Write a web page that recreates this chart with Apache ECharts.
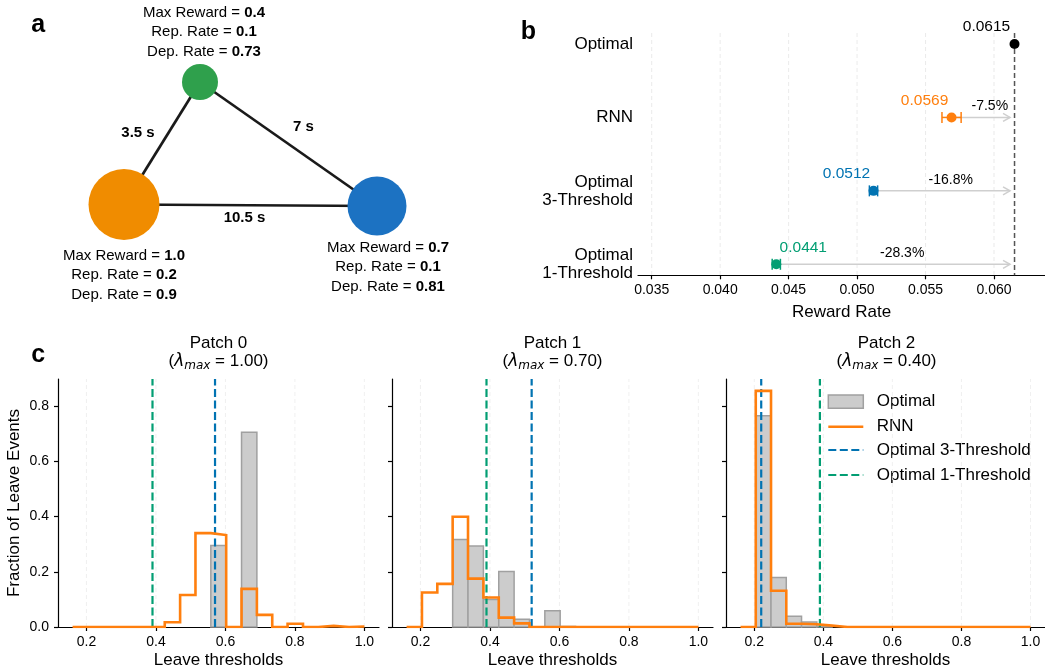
<!DOCTYPE html>
<html><head><meta charset="utf-8">
<script src="https://cdn.jsdelivr.net/npm/echarts@6/dist/echarts.min.js"></script>
<style>html,body{margin:0;padding:0;background:#fff}#chart{width:1045px;height:670px}</style>
</head><body><div id="chart"></div>
<script>
// ================= DATA =================
// panel a : patches of the foraging environment
const patchNames = ['Patch 0', 'Patch 1', 'Patch 2'];
const maxReward = [1.0, 0.7, 0.4];
const repRate = [0.2, 0.1, 0.1];
const depRate = [0.9, 0.81, 0.73];
const edgeFrom = [0, 2, 0];
const edgeTo = [2, 1, 1];
const travelTime = [3.5, 7, 10.5];

// panel b : reward rates
const methods = ['Optimal', 'RNN', 'Optimal\n3-Threshold', 'Optimal\n1-Threshold'];
const rewardRate = [0.0615, 0.0569, 0.0512, 0.0441];
const rewardErr = [0, 0.0007, 0.0003, 0.0003];
const pctChange = ['', '-7.5%', '-16.8%', '-28.3%'];
const rewardTicks = [0.035, 0.040, 0.045, 0.050, 0.055, 0.060];

// panel c : leave-threshold histograms
const binEdges = [0.16, 0.2042, 0.2484, 0.2926, 0.3368, 0.3811, 0.4253, 0.4695, 0.5137, 0.5579,
                  0.6021, 0.6463, 0.6905, 0.7347, 0.7789, 0.8232, 0.8674, 0.9116, 0.9558, 1.0];
const optHist0 = [0,0,0,0,0,0,0,0,0,0.295,0,0.705,0,0,0,0,0,0,0];
const rnnHist0 = [0,0,0,0,0,0,0.017,0.116,0.340,0.333,0,0.138,0.044,0,0.012,0,0.004,0,0.002];
const optHist1 = [0,0,0,0.317,0.293,0.100,0.201,0.028,0,0.059,0.002,0,0,0,0,0,0,0,0];
const rnnHist1 = [0,0.125,0.156,0.399,0.175,0.107,0.034,0.013,0,0,0,0,0,0,0,0,0,0,0];
const optHist2 = [0,0.765,0.179,0.039,0.018,0.002,0,0,0,0,0,0,0,0,0,0,0,0,0];
const rnnHist2 = [0,0.855,0.131,0.012,0.010,0.005,0,0,0,0,0,0,0,0,0,0,0,0,0];
const threshold3 = [0.57, 0.52, 0.22];
const threshold1 = [0.39, 0.39, 0.39];
const lambdaMax = ['1.00', '0.70', '0.40'];
const thrTicks = [0.2, 0.4, 0.6, 0.8, 1.0];
const fracTicks = [0, 0.2, 0.4, 0.6, 0.8];
const legendNames = ['Optimal', 'RNN', 'Optimal 3-Threshold', 'Optimal 1-Threshold'];

// ================= STYLE / LAYOUT =================
const FONT = 'Liberation Sans, Arial, Helvetica, sans-serif';
const C_ORANGE = '#ff7f0e', C_BLUE = '#0173b2', C_GREEN = '#029e73';
const nodeXY = [[124, 204.5], [377, 206], [200, 82]];
const nodeR = [35.5, 29.5, 18];
const nodeColor = ['#f08c00', '#1c72c2', '#2fa04c'];
const nodeLabelDx = [0, 11, 4];
const nodeLabelDy = [41.5, 32, -20.5];
const edgeLabelShift = [[-24, -10], [15, -17], [-6, 13]];
const bColors = ['#000000', C_ORANGE, C_BLUE, C_GREEN];
const valueLabelDx = [-28, -27, -27, 27];
const cLefts = [58, 392, 726];
const cWidth = 321, cTop = 379, cHeight = 248;
const X_MIN = 0.118, X_MAX = 1.042, Y_MAX = 0.898;
const B_YMIN = -0.15, B_YMAX = 3.15;

const optHists = [optHist0, optHist1, optHist2];
const rnnHists = [rnnHist0, rnnHist1, rnnHist2];

const chart = echarts.init(document.getElementById('chart'), null, {renderer: 'canvas', width: 1045, height: 670});

const grids = [
  {left: 0, top: 0, width: 1045, height: 670},
  {left: 638, top: 33, width: 407, height: 242.3}
];
cLefts.forEach(l => grids.push({left: l, top: cTop, width: cWidth, height: cHeight}));

const xAxes = [
  {gridIndex: 0, type: 'value', min: 0, max: 1045, show: false},
  {gridIndex: 1, type: 'value', min: 0.0340, max: 0.03400 + 407 / 13692,
   axisLine: {show: true, onZero: false, lineStyle: {color: '#000', width: 1.2}},
   axisTick: {show: true, customValues: rewardTicks, length: 4, lineStyle: {color: '#000', width: 1.2}},
   axisLabel: {customValues: rewardTicks, formatter: v => v.toFixed(3), fontSize: 14, color: '#000', margin: 8, fontFamily: FONT},
   splitLine: {show: false},
   name: 'Reward Rate', nameLocation: 'middle', nameGap: 29,
   nameTextStyle: {fontSize: 17, color: '#000', fontFamily: FONT}}
];
const yAxes = [
  {gridIndex: 0, type: 'value', min: 0, max: 670, inverse: true, show: false},
  {gridIndex: 1, type: 'value', min: B_YMIN, max: B_YMAX, inverse: true,
   axisLine: {show: false}, axisTick: {show: false}, splitLine: {show: false},
   axisLabel: {customValues: [0, 1, 2, 3], formatter: v => methods[Math.round(v)], fontSize: 17,
               lineHeight: 18, color: '#000', margin: 5, align: 'right', fontFamily: FONT,
               padding: [3, 0, 0, 0]}}
];
for (let k = 0; k < 3; k++) {
  xAxes.push({gridIndex: 2 + k, type: 'value', min: X_MIN, max: X_MAX,
    axisLine: {show: true, onZero: false, lineStyle: {color: '#000', width: 1.2}},
    axisTick: {show: true, customValues: thrTicks, length: 4, lineStyle: {color: '#000', width: 1.2}},
    axisLabel: {customValues: thrTicks, formatter: v => v.toFixed(1), fontSize: 14, color: '#000', margin: 8, fontFamily: FONT},
    splitLine: {show: false},
    name: 'Leave thresholds', nameLocation: 'middle', nameGap: 25,
    nameTextStyle: {fontSize: 17, color: '#000', fontFamily: FONT}});
  yAxes.push({gridIndex: 2 + k, type: 'value', min: 0, max: Y_MAX,
    axisLine: {show: true, lineStyle: {color: '#000', width: 1.2}},
    axisTick: {show: true, customValues: fracTicks, length: 4, lineStyle: {color: '#000', width: 1.2}},
    axisLabel: {show: k === 0, customValues: fracTicks, formatter: v => v.toFixed(1), fontSize: 14, color: '#000', margin: 9, fontFamily: FONT},
    splitLine: {show: false},
    name: k === 0 ? 'Fraction of Leave Events' : '', nameLocation: 'middle', nameGap: 35,
    nameTextStyle: {fontSize: 17, color: '#000', fontFamily: FONT}});
}

// vertical reference lines drawn through the axes' scales
function vLines(ax, values, y0, y1, style) {
  return {
    type: 'custom', xAxisIndex: ax, yAxisIndex: ax, silent: true,
    data: values.map(v => [v, y0]),
    renderItem: (params, api) => {
      const a = api.coord([api.value(0), y0]), b = api.coord([api.value(0), y1]);
      return {type: 'line', shape: {x1: a[0], y1: a[1], x2: b[0], y2: b[1]}, style: style};
    }
  };
}

const series = [];

// ---------- panel a ----------
series.push({
  type: 'custom', xAxisIndex: 0, yAxisIndex: 0, silent: true,
  data: travelTime.map((t, i) => [edgeFrom[i], edgeTo[i], t]),
  renderItem: (params, api) => {
    const i = params.dataIndex;
    const a = api.coord(nodeXY[edgeFrom[i]]), b = api.coord(nodeXY[edgeTo[i]]);
    return {type: 'group', children: [
      {type: 'line', shape: {x1: a[0], y1: a[1], x2: b[0], y2: b[1]}, style: {stroke: '#1a1a1a', lineWidth: 2.7}},
      {type: 'text', x: (a[0] + b[0]) / 2 + edgeLabelShift[i][0], y: (a[1] + b[1]) / 2 + edgeLabelShift[i][1],
       style: {text: travelTime[i] + ' s', fontSize: 15, fontWeight: 'bold', fontFamily: FONT, fill: '#000', align: 'center', verticalAlign: 'middle'}}
    ]};
  }
});
series.push({
  type: 'custom', xAxisIndex: 0, yAxisIndex: 0, silent: true,
  data: maxReward.map((r, i) => [i, r]),
  renderItem: (params, api) => {
    const i = params.dataIndex;
    const c = api.coord(nodeXY[i]);
    const txt = '{n|Max Reward = }{b|' + maxReward[i].toFixed(1) + '}\n' +
                '{n|Rep. Rate = }{b|' + repRate[i].toFixed(1) + '}\n' +
                '{n|Dep. Rate = }{b|' + String(depRate[i]) + '}';
    const dy = nodeLabelDy[i];
    return {type: 'group', children: [
      {type: 'circle', shape: {cx: c[0], cy: c[1], r: nodeR[i]}, style: {fill: nodeColor[i]}},
      {type: 'text', x: c[0] + nodeLabelDx[i], y: c[1] + dy,
       style: {text: txt, align: 'center', verticalAlign: dy > 0 ? 'top' : 'bottom', fill: '#000',
         fontSize: 15, fontFamily: FONT, lineHeight: 19.5,
         rich: {n: {fontSize: 15, fontFamily: FONT, lineHeight: 19.5, fill: '#000'},
                b: {fontSize: 15, fontFamily: FONT, fontWeight: 'bold', lineHeight: 19.5, fill: '#000'}}}}
    ]};
  }
});

// ---------- panel b ----------
series.push(vLines(1, rewardTicks, B_YMIN, B_YMAX, {stroke: '#e4e4e4', lineWidth: 0.8, lineDash: [4, 3]}));
series.push(vLines(1, [rewardRate[0]], B_YMIN, B_YMAX, {stroke: '#555555', lineWidth: 1.5, lineDash: [5, 3]}));
series.push({
  type: 'custom', xAxisIndex: 1, yAxisIndex: 1, silent: true,
  data: rewardRate.map((v, i) => [v, i]),
  renderItem: (params, api) => {
    const i = params.dataIndex;
    if (i === 0) return null;
    const s = api.coord([api.value(0), i]);
    const e = api.coord([rewardRate[0], i]);
    const ex = e[0] - 4.5, y = s[1];
    return {type: 'group', children: [
      {type: 'line', shape: {x1: s[0], y1: y, x2: ex, y2: y}, style: {stroke: '#cfcfcf', lineWidth: 1.5}},
      {type: 'polyline', shape: {points: [[ex - 7, y - 4], [ex, y], [ex - 7, y + 4]]}, style: {stroke: '#cfcfcf', lineWidth: 1.5, fill: null}},
      {type: 'text', x: (s[0] + ex) / 2 + 9, y: y - 11,
       style: {text: pctChange[i], fontSize: 14, fontFamily: FONT, fill: '#000', align: 'center', verticalAlign: 'middle'}}
    ]};
  }
});
series.push({
  type: 'custom', xAxisIndex: 1, yAxisIndex: 1, silent: true,
  data: rewardRate.map((v, i) => [v, i, rewardErr[i]]),
  renderItem: (params, api) => {
    const i = params.dataIndex, v = api.value(0), err = api.value(2);
    if (!err) return null;
    const a = api.coord([v - err, i]), b = api.coord([v + err, i]);
    const st = {stroke: bColors[i], lineWidth: 1.5};
    return {type: 'group', children: [
      {type: 'line', shape: {x1: a[0], y1: a[1], x2: b[0], y2: b[1]}, style: st},
      {type: 'line', shape: {x1: a[0], y1: a[1] - 5.5, x2: a[0], y2: a[1] + 5.5}, style: st},
      {type: 'line', shape: {x1: b[0], y1: b[1] - 5.5, x2: b[0], y2: b[1] + 5.5}, style: st}
    ]};
  }
});
series.push({
  type: 'scatter', xAxisIndex: 1, yAxisIndex: 1, symbol: 'circle', symbolSize: 10,
  itemStyle: {opacity: 1},
  data: rewardRate.map((v, i) => ({value: [v, i], itemStyle: {color: bColors[i], opacity: 1},
    label: {offset: [valueLabelDx[i], 0], color: bColors[i]}})),
  label: {show: true, position: 'top', distance: 4, fontSize: 15.5, fontFamily: FONT, opacity: 1,
          formatter: p => p.value[0].toFixed(4)}
});

// ---------- panel c ----------
for (let k = 0; k < 3; k++) {
  const ax = 2 + k;
  series.push(vLines(ax, thrTicks, 0, Y_MAX, {stroke: '#ececec', lineWidth: 0.8, lineDash: [4, 3]}));
  const bars = [];
  for (let i = 0; i < binEdges.length - 1; i++) {
    if (optHists[k][i] > 0) bars.push([binEdges[i], binEdges[i + 1], optHists[k][i]]);
  }
  series.push({
    type: 'custom', name: 'Optimal', xAxisIndex: ax, yAxisIndex: ax, silent: true,
    encode: {x: [0, 1], y: 2}, data: bars,
    renderItem: (params, api) => {
      const p1 = api.coord([api.value(0), api.value(2)]);
      const p2 = api.coord([api.value(1), 0]);
      return {type: 'rect', shape: {x: p1[0], y: p1[1], width: p2[0] - p1[0], height: p2[1] - p1[1]},
              style: {fill: '#cccccc', stroke: '#a0a0a0', lineWidth: 1.5}};
    }
  });
  const step = [[binEdges[0], 0]];
  for (let i = 0; i < binEdges.length - 1; i++) {
    step.push([binEdges[i], rnnHists[k][i]], [binEdges[i + 1], rnnHists[k][i]]);
  }
  step.push([binEdges[binEdges.length - 1], 0]);
  series.push({
    type: 'line', name: 'RNN', xAxisIndex: ax, yAxisIndex: ax, data: step, symbol: 'none', silent: true,
    lineStyle: {color: C_ORANGE, width: 2.6, join: 'miter'}
  });
  series.push(vLines(ax, [threshold3[k]], 0, Y_MAX, {stroke: C_BLUE, lineWidth: 2.2, lineDash: [8, 3.5]}));
  series.push(vLines(ax, [threshold1[k]], 0, Y_MAX, {stroke: C_GREEN, lineWidth: 2.2, lineDash: [8, 3.5]}));
}

// ---------- texts: panel letters, titles, legend ----------
const graphic = [];
[['a', 38.3, 25.5], ['b', 528.3, 32.5], ['c', 38.3, 354.7]].forEach(d => graphic.push({
  type: 'text', x: d[1], y: d[2], silent: true,
  style: {text: d[0], fontSize: 25, fontWeight: 'bold', fontFamily: FONT, fill: '#000', align: 'center', verticalAlign: 'middle'}
}));
for (let k = 0; k < 3; k++) {
  const cx = cLefts[k] + cWidth / 2;
  graphic.push({type: 'text', x: cx, y: 343.3, silent: true,
    style: {text: patchNames[k], fontSize: 17, fontFamily: FONT, fill: '#000', align: 'center', verticalAlign: 'middle'}});
  graphic.push({type: 'text', x: cx, y: 361.7, silent: true,
    style: {text: '{o|(}{l|λ}{s|max}{o| = ' + lambdaMax[k] + ')}', align: 'center', verticalAlign: 'middle',
      rich: {o: {fontSize: 17, fontFamily: FONT, fill: '#000', lineHeight: 20, verticalAlign: 'middle'},
             l: {fontSize: 17, fontFamily: 'DejaVu Sans', fontStyle: 'italic', fill: '#000', lineHeight: 20, verticalAlign: 'middle'},
             s: {fontSize: 12, fontFamily: 'DejaVu Sans', fontStyle: 'italic', fill: '#000', lineHeight: 9, verticalAlign: 'bottom'}}}});
}
const legY = [401.7, 426.7, 450, 475];
graphic.push({type: 'rect', shape: {x: 828.3, y: 395, width: 35, height: 13.3}, silent: true,
  style: {fill: '#cccccc', stroke: '#a0a0a0', lineWidth: 1.5}});
graphic.push({type: 'line', shape: {x1: 828.3, y1: legY[1], x2: 863.3, y2: legY[1]}, silent: true,
  style: {stroke: C_ORANGE, lineWidth: 2.6}});
graphic.push({type: 'line', shape: {x1: 828.3, y1: legY[2], x2: 863.3, y2: legY[2]}, silent: true,
  style: {stroke: C_BLUE, lineWidth: 2.2, lineDash: [8, 3.5]}});
graphic.push({type: 'line', shape: {x1: 828.3, y1: legY[3], x2: 863.3, y2: legY[3]}, silent: true,
  style: {stroke: C_GREEN, lineWidth: 2.2, lineDash: [8, 3.5]}});
legendNames.forEach((n, i) => graphic.push({type: 'text', x: 876.7, y: legY[i], silent: true,
  style: {text: n, fontSize: 17, fontFamily: FONT, fill: '#000', align: 'left', verticalAlign: 'middle'}}));

chart.setOption({
  animation: false,
  backgroundColor: '#ffffff',
  textStyle: {fontFamily: FONT},
  grid: grids, xAxis: xAxes, yAxis: yAxes, series: series, graphic: graphic
});
</script></body></html>
